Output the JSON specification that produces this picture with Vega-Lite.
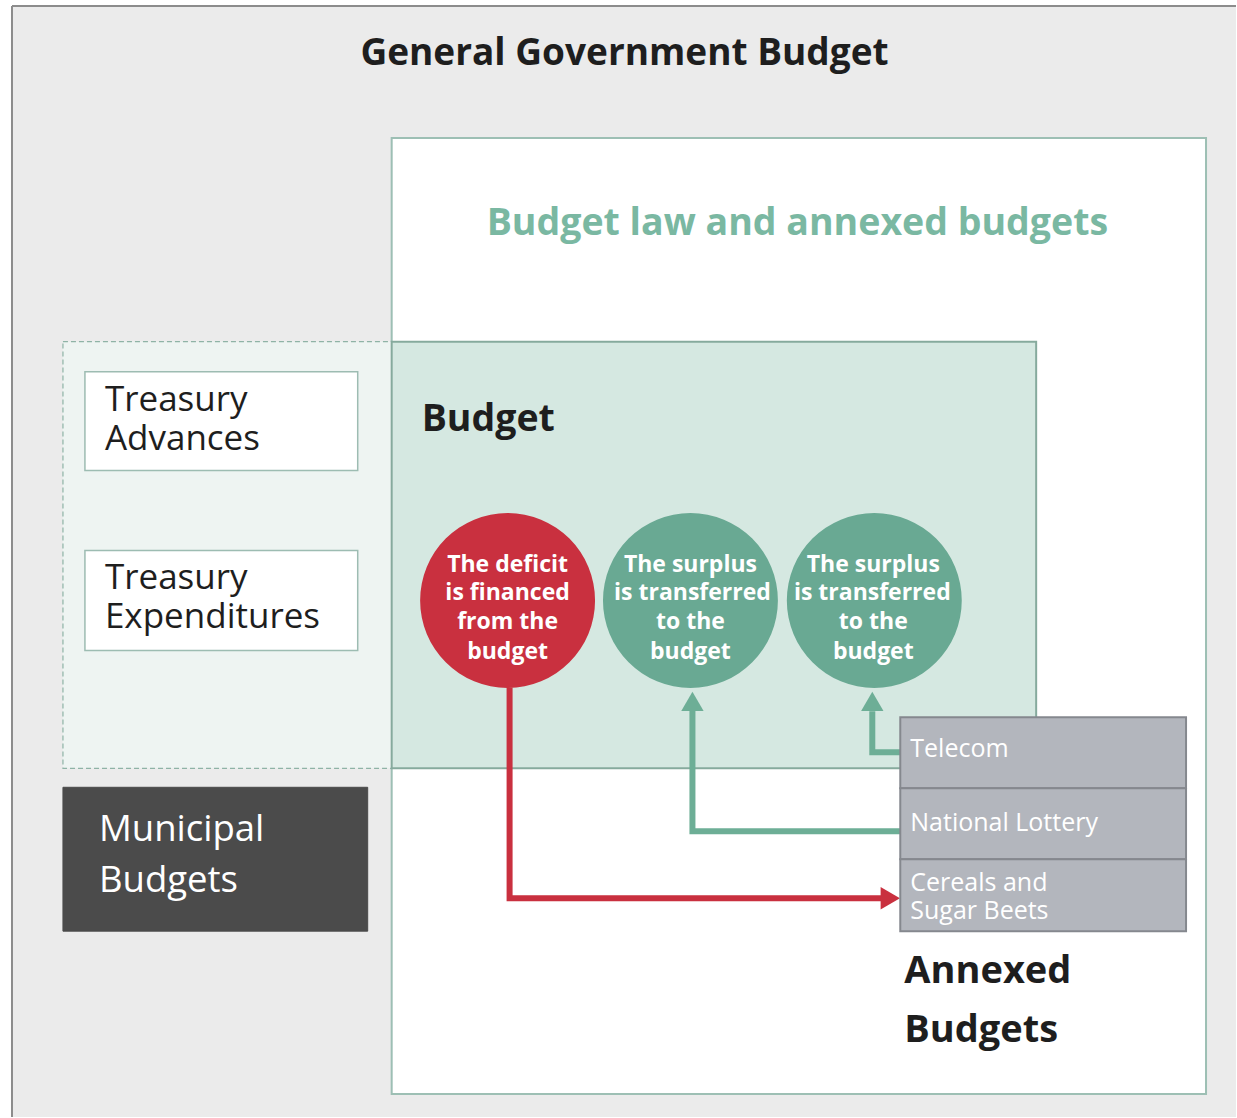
{
  "$schema": "https://vega.github.io/schema/vega-lite/v6.json",
  "width": 1237,
  "height": 1118,
  "padding": 0,
  "autosize": {"type": "fit", "contains": "padding"},
  "background": "#ffffff",
  "config": {"view": {"stroke": null}},
  "datasets": {
    "boxes": [
      {"name": "frame", "layer": 0, "x": 12, "x2": 1237, "y": 6, "y2": 1118, "fill": "#ebebeb", "stroke": "#ebebeb", "sw": 0},
      {"name": "law", "layer": 0, "x": 392, "x2": 1207, "y": 138, "y2": 1095, "fill": "#ffffff", "stroke": "#9dbfb4", "sw": 2},
      {"name": "treasuryzone", "layer": 1, "x": 63, "x2": 392, "y": 342, "y2": 769, "fill": "#eef4f2", "stroke": "#8fb3a6", "sw": 1.2},
      {"name": "budget", "layer": 2, "x": 392, "x2": 1037, "y": 342, "y2": 769, "fill": "#d5e8e1", "stroke": "#86aa9d", "sw": 2},
      {"name": "adv", "layer": 2, "x": 85, "x2": 358, "y": 372, "y2": 471, "fill": "#ffffff", "stroke": "#9dbcb2", "sw": 1.5},
      {"name": "exp", "layer": 2, "x": 85, "x2": 358, "y": 551, "y2": 651, "fill": "#ffffff", "stroke": "#9dbcb2", "sw": 1.5},
      {"name": "muni", "layer": 2, "x": 63, "x2": 368, "y": 788, "y2": 932, "fill": "#4b4b4b", "stroke": "#4b4b4b", "sw": 1}
    ],
    "frameEdges": [
      {"x": 12, "x2": 12, "y": 6, "y2": 1118},
      {"x": 12, "x2": 1237, "y": 6, "y2": 6}
    ],
    "annexboxes": [
      {"name": "Telecom", "x": 901, "x2": 1187, "y": 718, "y2": 789},
      {"name": "National Lottery", "x": 901, "x2": 1187, "y": 789, "y2": 860},
      {"name": "Cereals", "x": 901, "x2": 1187, "y": 860, "y2": 932}
    ],
    "circles": [
      {"name": "deficit", "x": 508, "y": 601, "fill": "#c9303f"},
      {"name": "surplus1", "x": 691, "y": 601, "fill": "#69a993"},
      {"name": "surplus2", "x": 875, "y": 601, "fill": "#69a993"}
    ],
    "paths": [
      {"path": "red", "ord": 1, "x": 510, "y": 688, "c": "#c9303f"},
      {"path": "red", "ord": 2, "x": 510, "y": 899, "c": "#c9303f"},
      {"path": "red", "ord": 3, "x": 885, "y": 899, "c": "#c9303f"},
      {"path": "g1", "ord": 1, "x": 901, "y": 832, "c": "#6dae96"},
      {"path": "g1", "ord": 2, "x": 693, "y": 832, "c": "#6dae96"},
      {"path": "g1", "ord": 3, "x": 693, "y": 710, "c": "#6dae96"},
      {"path": "g2", "ord": 1, "x": 901, "y": 753, "c": "#6dae96"},
      {"path": "g2", "ord": 2, "x": 873, "y": 753, "c": "#6dae96"},
      {"path": "g2", "ord": 3, "x": 873, "y": 712, "c": "#6dae96"}
    ],
    "heads": [
      {"x": 891, "y": 899, "shape": "triangle-right", "c": "#c9303f"},
      {"x": 693, "y": 702, "shape": "triangle-up", "c": "#6dae96"},
      {"x": 873, "y": 702, "shape": "triangle-up", "c": "#6dae96"}
    ],
    "boldCenter": [
      {"t": "General Government Budget", "x": 625, "y": 52, "s": 37, "c": "#1e1e1e"},
      {"t": "The deficit", "x": 508, "y": 564, "s": 23, "c": "#ffffff"},
      {"t": "is financed", "x": 508, "y": 592, "s": 23, "c": "#ffffff"},
      {"t": "from the", "x": 508, "y": 621, "s": 23, "c": "#ffffff"},
      {"t": "budget", "x": 508, "y": 651, "s": 23, "c": "#ffffff"},
      {"t": "The surplus", "x": 691, "y": 564, "s": 23, "c": "#ffffff"},
      {"t": "is transferred", "x": 693, "y": 592, "s": 23, "c": "#ffffff"},
      {"t": "to the", "x": 691, "y": 621, "s": 23, "c": "#ffffff"},
      {"t": "budget", "x": 691, "y": 651, "s": 23, "c": "#ffffff"},
      {"t": "The surplus", "x": 874, "y": 564, "s": 23, "c": "#ffffff"},
      {"t": "is transferred", "x": 873, "y": 592, "s": 23, "c": "#ffffff"},
      {"t": "to the", "x": 874, "y": 621, "s": 23, "c": "#ffffff"},
      {"t": "budget", "x": 874, "y": 651, "s": 23, "c": "#ffffff"},
      {"t": "Budget law and annexed budgets", "x": 798, "y": 222, "s": 37.5, "c": "#7ab8a2"}
    ],
    "boldLeft": [
      {"t": "Budget", "x": 422, "y": 418, "s": 37.5, "c": "#1e1e1e"},
      {"t": "Annexed", "x": 905, "y": 971, "s": 38, "c": "#1e1e1e"},
      {"t": "Budgets", "x": 905, "y": 1030, "s": 38, "c": "#1e1e1e"}
    ],
    "normalLeft": [
      {"t": "Treasury", "x": 105, "y": 398, "s": 35, "c": "#1e1e1e"},
      {"t": "Advances", "x": 105, "y": 437, "s": 35, "c": "#1e1e1e"},
      {"t": "Treasury", "x": 105, "y": 577, "s": 35, "c": "#1e1e1e"},
      {"t": "Expenditures", "x": 105, "y": 616, "s": 35, "c": "#1e1e1e"},
      {"t": "Municipal", "x": 99, "y": 829, "s": 36.5, "c": "#ffffff"},
      {"t": "Budgets", "x": 99, "y": 880, "s": 36.5, "c": "#ffffff"},
      {"t": "Telecom", "x": 911, "y": 748, "s": 25, "c": "#ffffff"},
      {"t": "National Lottery", "x": 911, "y": 822, "s": 25, "c": "#ffffff"},
      {"t": "Cereals and", "x": 911, "y": 882, "s": 25, "c": "#ffffff"},
      {"t": "Sugar Beets", "x": 911, "y": 910, "s": 25, "c": "#ffffff"}
    ]
  },
  "layer": [
    {
      "data": {"name": "boxes"},
      "transform": [{"filter": "datum.layer == 0"}],
      "mark": {"type": "rect"},
      "encoding": {
        "x": {"field": "x", "type": "quantitative", "scale": {"domain": [0, 1237], "nice": false, "zero": false}, "axis": null},
        "x2": {"field": "x2"},
        "y": {"field": "y", "type": "quantitative", "scale": {"domain": [0, 1118], "nice": false, "zero": false, "reverse": true}, "axis": null},
        "y2": {"field": "y2"},
        "fill": {"field": "fill", "type": "nominal", "scale": null},
        "stroke": {"field": "stroke", "type": "nominal", "scale": null},
        "strokeWidth": {"field": "sw", "type": "quantitative", "scale": null}
      }
    },
    {
      "data": {"name": "frameEdges"},
      "mark": {"type": "rule", "color": "#8c8c8c", "strokeWidth": 2},
      "encoding": {
        "x": {"field": "x", "type": "quantitative"},
        "x2": {"field": "x2"},
        "y": {"field": "y", "type": "quantitative"},
        "y2": {"field": "y2"}
      }
    },
    {
      "data": {"name": "boxes"},
      "transform": [{"filter": "datum.layer == 1"}],
      "mark": {"type": "rect", "strokeDash": [5, 3]},
      "encoding": {
        "x": {"field": "x", "type": "quantitative"},
        "x2": {"field": "x2"},
        "y": {"field": "y", "type": "quantitative"},
        "y2": {"field": "y2"},
        "fill": {"field": "fill", "type": "nominal", "scale": null},
        "stroke": {"field": "stroke", "type": "nominal", "scale": null},
        "strokeWidth": {"field": "sw", "type": "quantitative", "scale": null}
      }
    },
    {
      "data": {"name": "boxes"},
      "transform": [{"filter": "datum.layer == 2"}],
      "mark": {"type": "rect"},
      "encoding": {
        "x": {"field": "x", "type": "quantitative"},
        "x2": {"field": "x2"},
        "y": {"field": "y", "type": "quantitative"},
        "y2": {"field": "y2"},
        "fill": {"field": "fill", "type": "nominal", "scale": null},
        "stroke": {"field": "stroke", "type": "nominal", "scale": null},
        "strokeWidth": {"field": "sw", "type": "quantitative", "scale": null}
      }
    },
    {
      "data": {"name": "circles"},
      "mark": {"type": "point", "shape": "circle", "filled": true, "opacity": 1, "size": 30600},
      "encoding": {
        "x": {"field": "x", "type": "quantitative"},
        "y": {"field": "y", "type": "quantitative"},
        "color": {"field": "fill", "type": "nominal", "scale": null}
      }
    },
    {
      "data": {"name": "paths"},
      "mark": {"type": "line", "strokeWidth": 6, "strokeJoin": "miter", "strokeCap": "butt"},
      "encoding": {
        "x": {"field": "x", "type": "quantitative"},
        "y": {"field": "y", "type": "quantitative"},
        "detail": {"field": "path", "type": "nominal"},
        "order": {"field": "ord", "type": "quantitative"},
        "color": {"field": "c", "type": "nominal", "scale": null}
      }
    },
    {
      "data": {"name": "heads"},
      "mark": {"type": "point", "filled": true, "opacity": 1, "size": 500},
      "encoding": {
        "x": {"field": "x", "type": "quantitative"},
        "y": {"field": "y", "type": "quantitative"},
        "shape": {"field": "shape", "type": "nominal", "scale": null},
        "color": {"field": "c", "type": "nominal", "scale": null}
      }
    },
    {
      "data": {"name": "annexboxes"},
      "mark": {"type": "rect", "fill": "#b3b6bd", "stroke": "#85888e", "strokeWidth": 2},
      "encoding": {
        "x": {"field": "x", "type": "quantitative"},
        "x2": {"field": "x2"},
        "y": {"field": "y", "type": "quantitative"},
        "y2": {"field": "y2"}
      }
    },
    {
      "data": {"name": "boldCenter"},
      "mark": {"type": "text", "font": "Open Sans", "fontWeight": "bold", "align": "center", "baseline": "middle", "dy": 2},
      "encoding": {
        "x": {"field": "x", "type": "quantitative"},
        "y": {"field": "y", "type": "quantitative"},
        "text": {"field": "t"},
        "size": {"field": "s", "type": "quantitative", "scale": null},
        "color": {"field": "c", "type": "nominal", "scale": null}
      }
    },
    {
      "data": {"name": "boldLeft"},
      "mark": {"type": "text", "font": "Open Sans", "fontWeight": "bold", "align": "left", "baseline": "middle", "dy": 2},
      "encoding": {
        "x": {"field": "x", "type": "quantitative"},
        "y": {"field": "y", "type": "quantitative"},
        "text": {"field": "t"},
        "size": {"field": "s", "type": "quantitative", "scale": null},
        "color": {"field": "c", "type": "nominal", "scale": null}
      }
    },
    {
      "data": {"name": "normalLeft"},
      "mark": {"type": "text", "font": "Open Sans", "fontWeight": "normal", "align": "left", "baseline": "middle", "dy": 2},
      "encoding": {
        "x": {"field": "x", "type": "quantitative"},
        "y": {"field": "y", "type": "quantitative"},
        "text": {"field": "t"},
        "size": {"field": "s", "type": "quantitative", "scale": null},
        "color": {"field": "c", "type": "nominal", "scale": null}
      }
    }
  ]
}
